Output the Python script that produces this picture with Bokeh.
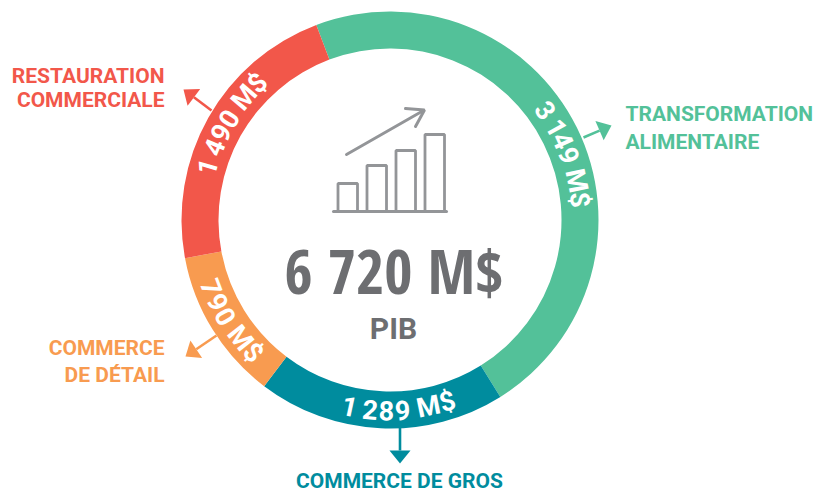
import math
from bokeh.plotting import figure
from bokeh.models import Range1d
from bokeh.core.properties import value
from bokeh.embed import file_html
from bokeh.resources import INLINE

# ---- data
categories = ["Transformation alimentaire", "Commerce de gros", "Commerce de détail", "Restauration commerciale"]
amounts = [3149, 1289, 790, 1490]
amount_labels = ["3 149 M$", "1 289 M$", "790 M$", "1 490 M$"]
colors = ["#53c199", "#008c9e", "#f89b50", "#f2574a"]
name_lines = [["TRANSFORMATION", "ALIMENTAIRE"], ["COMMERCE DE GROS"], ["COMMERCE", "DE DÉTAIL"], ["RESTAURATION", "COMMERCIALE"]]
total_label = "6 720 M$"
sub_label = "PIB"
icon_bar_values = [28, 46, 61, 77]

# ---- layout (page pixels)
PAGE_H = 493
W, H = 814, 493
CX, CY, R_OUT, R_IN = 389.5, 219.5, 208.5, 171.5
START = 339.3   # clockwise from the top
GREY = "#939598"
DARK = "#6d6e71"
BOLD = "Roboto"

def Y(v):
    return PAGE_H - v

p = figure(width=W, height=H, output_backend="svg", toolbar_location=None,
           x_range=Range1d(0, W), y_range=Range1d(0, H),
           min_border=0, x_axis_type=None, y_axis_type=None,
           outline_line_color=None)
p.grid.visible = False

# ring
a = START
for amount, c in zip(amounts, colors):
    span = 360 * amount / sum(amounts)
    p.annular_wedge(x=[CX], y=[Y(CY)], inner_radius=R_IN, outer_radius=R_OUT,
                    start_angle=[math.radians(90 - (a + span))], end_angle=[math.radians(90 - a)],
                    fill_color=c, line_color=None)
    a += span

# arrows: tail, tip in page pixels
arrows = [((583, 137), (611, 125)), ((399.5, 427), (399.5, 463)), ((216, 335), (185, 356)), ((211, 110), (183, 89))]
HEAD_L, HEAD_W = 13, 21
for ((x0, y0), (x1, y1)), c in zip(arrows, colors):
    d = math.hypot(x1 - x0, y1 - y0)
    ux, uy = (x1 - x0) / d, (y1 - y0) / d
    bx, by = x1 - ux * HEAD_L, y1 - uy * HEAD_L
    p.segment(x0=[x0], y0=[Y(y0)], x1=[bx], y1=[Y(by)], line_color=c, line_width=2.6)
    p.patch(x=[x1, bx - uy * HEAD_W / 2, bx + uy * HEAD_W / 2],
            y=[Y(y1), Y(by + ux * HEAD_W / 2), Y(by - ux * HEAD_W / 2)], fill_color=c, line_color=None)

# curved amounts, one glyph per character
ADV = {" ": 0.24, "M": 0.86, "$": 0.58, "1": 0.46}
mids = [69.3, 177.1, 237.7, 301.3]
flip = [False, True, True, False]
FS = 27
R_TXT = 190.5
for label, mid, fl in zip(amount_labels, mids, flip):
    adv = [ADV.get(ch, 0.6) * FS for ch in label]
    total = sum(adv)
    pos = -total / 2
    xs, ys, ang, txt = [], [], [], []
    for ch, w in zip(label, adv):
        s = pos + w / 2
        pos += w
        deg = mid + (-1 if fl else 1) * math.degrees(s / R_TXT)
        th = math.radians(deg)
        xs.append(CX + R_TXT * math.sin(th))
        ys.append(Y(CY - R_TXT * math.cos(th)))
        ang.append(-th + (math.pi if fl else 0))
        txt.append(ch)
    p.text(x=xs, y=ys, text=txt, angle=ang, text_color="white", text_font=value(BOLD),
           text_font_style="bold", text_font_size=f"{FS}px", text_align="center", text_baseline="middle")

# category names
name_pos = [(625, [113.5, 141], "left"), (399, [480.5], "center"), (164, [347, 374.5], "right"), (164, [75.5, 99.5], "right")]
for lines, (x, ysl, al), c in zip(name_lines, name_pos, colors):
    p.text(x=[x] * len(lines), y=[Y(v) for v in ysl], text=lines, text_color=c, text_font=value(BOLD),
           text_font_style="bold", text_font_size="21px", text_align=al, text_baseline="middle")

# centre
p.text(x=[393.5], y=[Y(270)], text=[total_label], text_color=DARK, text_font=value("Open Sans Condensed"),
       text_font_style="bold", text_font_size="61px", text_align="center", text_baseline="middle")
p.text(x=[393], y=[Y(328)], text=[sub_label], text_color=DARK, text_font=value(BOLD),
       text_font_style="bold", text_font_size="30px", text_align="center", text_baseline="middle")

# icon
ICON_BASE = 211
for left, hv in zip([337.5, 366.5, 395.5, 424.5], icon_bar_values):
    p.quad(left=[left], right=[left + 19.5], bottom=[Y(ICON_BASE)], top=[Y(ICON_BASE) + hv],
           fill_color=None, line_color=GREY, line_width=2.8)
p.segment(x0=[333], y0=[Y(211)], x1=[446], y1=[Y(211)], line_color=GREY, line_width=3, line_cap="round")
p.segment(x0=[346], y0=[Y(154)], x1=[423], y1=[Y(110)], line_color=GREY, line_width=3, line_cap="round")
p.multi_line(xs=[[405, 424, 415]], ys=[[Y(108), Y(109.5), Y(126)]], line_color=GREY, line_width=3, line_cap="round")

open("out.html", "w").write(file_html(p, INLINE))
